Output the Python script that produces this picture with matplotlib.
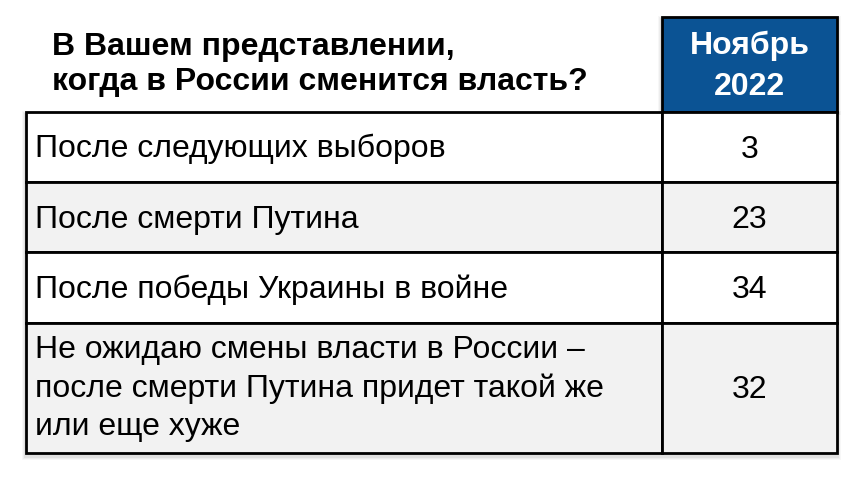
import matplotlib.pyplot as plt
from matplotlib.patches import Rectangle

plt.rcParams['font.family'] = ['Liberation Sans', 'DejaVu Sans']

title = ["В Вашем представлении,", "когда в России сменится власть?"]
column = ["Ноябрь", "2022"]
answers = [["После следующих выборов"],
           ["После смерти Путина"],
           ["После победы Украины в войне"],
           ["Не ожидаю смены власти в России –",
            "после смерти Путина придет такой же",
            "или еще хуже"]]
values = [3, 23, 34, 32]

fig = plt.figure(figsize=(8.56, 4.78), dpi=100)
ax = fig.add_axes([0, 0, 1, 1])
ax.set_xlim(0, 856)
ax.set_ylim(478, 0)
ax.axis('off')

left, mid, right = 26, 662, 837
head_top, top = 17, 112
row_bottoms = [182, 252, 323, 453]
fills = ['white', '#f2f2f2', 'white', '#f2f2f2']
fs = 23
step = 38.5

# soft shadow
for i, a in enumerate([0.05, 0.04, 0.03]):
    d = i + 2
    ax.add_patch(Rectangle((left - d, top - d + 3), right - left + 2 * d, row_bottoms[-1] - top + 2 * d,
                           facecolor='black', alpha=a, edgecolor='none', zorder=0))
    ax.add_patch(Rectangle((mid - d, head_top - d + 3), right - mid + 2 * d, top - head_top + d,
                           facecolor='black', alpha=a, edgecolor='none', zorder=0))

for i, line in enumerate(title):
    ax.text(52, 55 + 35 * i, line, fontsize=fs, fontweight='bold', va='baseline',
            ha='left', zorder=3)

ax.add_patch(Rectangle((mid, head_top), right - mid, top - head_top,
                       facecolor='#0b5394', edgecolor='black', lw=2, zorder=2))
for i, line in enumerate(column):
    ax.text((mid + right) / 2, 54 + 41 * i, line, color='white', fontsize=fs,
            fontweight='bold', ha='center', va='baseline', zorder=3)

y0 = top
for ans, val, yb, fc in zip(answers, values, row_bottoms, fills):
    ax.add_patch(Rectangle((left, y0), mid - left, yb - y0, facecolor=fc,
                           edgecolor='black', lw=2, zorder=2))
    ax.add_patch(Rectangle((mid, y0), right - mid, yb - y0, facecolor=fc,
                           edgecolor='black', lw=2, zorder=2))
    cy = (y0 + yb) / 2
    n = len(ans)
    for i, line in enumerate(ans):
        base = cy + 10.5 + (i - (n - 1) / 2) * step - (2 if n > 1 else 0)
        ax.text(35, base, line, fontsize=fs, ha='left', va='baseline', zorder=3)
    ax.text((mid + right) / 2, cy + 10.5, str(val), fontsize=fs, ha='center',
            va='baseline', zorder=3)
    y0 = yb

fig.savefig('out.png', dpi=100)
